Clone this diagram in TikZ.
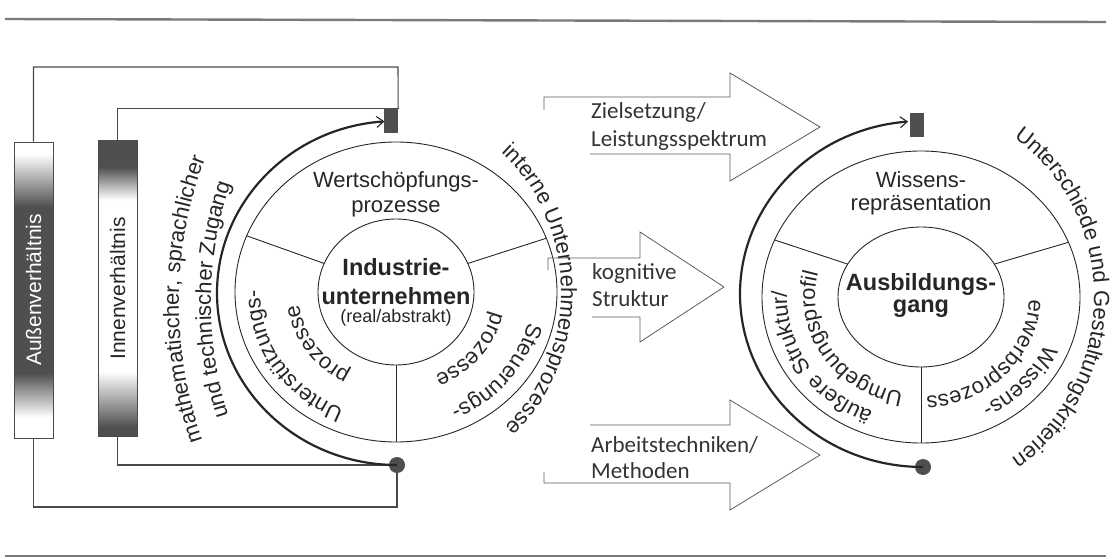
\documentclass[tikz,border=0pt]{standalone}
\usepackage{fontspec}
\usepackage{graphicx}
\setmainfont{Liberation Sans}
\newfontfamily\arrowfont{Carlito}
\usetikzlibrary{arrows.meta,decorations.text,calc}

\definecolor{ink}{HTML}{262626}
\definecolor{framegray}{HTML}{4A4A4A}
\definecolor{bardark}{HTML}{4F4F4F}
\definecolor{rulegray}{HTML}{7A7A7A}
\definecolor{arrowgray}{HTML}{5C5C5C}
\definecolor{labelgray}{HTML}{333333}

% vertical shadings of the two relation bars (bottom -> top, 25bp..75bp = bar)
\pgfdeclareverticalshading{outerbar}{100bp}{color(0bp)=(white); color(25bp)=(white); color(28.5bp)=(white); color(36bp)=(bardark); color(64bp)=(bardark); color(73bp)=(white); color(100bp)=(white)}
\pgfdeclareverticalshading{innerbar}{100bp}{color(0bp)=(bardark); color(26.5bp)=(bardark); color(36bp)=(white); color(65bp)=(white); color(70.5bp)=(bardark); color(100bp)=(bardark)}

\newcommand\ringfont{\fontsize{22}{26}\selectfont}
% curved text: centre, start angle, end angle, x radius, y radius, text
\newcommand\ringtext[6]{%
  \path[decorate, decoration={text along path, text align=center,
    text={|\ringfont\color{ink}|#6}}]
    ($(#1)+(#2:#4 and #5)$) arc[start angle=#2, end angle=#3, x radius=#4, y radius=#5];}

\begin{document}
\begin{tikzpicture}[x=1pt,y=1pt,
  ringline/.style={draw=ink, line width=0.9pt},
  frameline/.style={draw=framegray, line width=1.1pt},
  thickarc/.style={draw=ink, line width=2.2pt, -{Straight Barb[length=7pt,width=11pt,line width=1.1pt]}},
  blockarrow/.style={draw=arrowgray, line width=0.8pt, line join=miter},
  relbar/.style={draw=framegray, line width=0.8pt, minimum width=39pt, minimum height=296pt, inner sep=0pt, shade, font=\fontsize{21}{21}\selectfont},
  marker/.style={fill=bardark, minimum width=14pt, minimum height=24pt, inner sep=0pt},
  knob/.style={circle, fill=bardark, minimum size=16pt, inner sep=0pt},
  ctext/.style={inner sep=0pt, anchor=base, text=ink, font=\ringfont},
  btext/.style={inner sep=0pt, anchor=base, text=ink, font=\fontsize{23.5}{23.5}\selectfont\bfseries},
  stext/.style={inner sep=0pt, anchor=base, text=ink, font=\fontsize{18}{18}\selectfont},
  alabel/.style={inner sep=0pt, anchor=base west, text=labelgray, font=\arrowfont\fontsize{23}{23}\selectfont},
]
\useasboundingbox (0,0) rectangle (1114,-559);

% horizontal rules
\draw[rulegray, line width=2.4pt] (5,-19) -- (1106,-22);
\draw[rulegray, line width=2.4pt] (5,-556) -- (1106,-556);

% relation bars
\node[relbar, shading=outerbar, text=white] (aussen) at (33.5,-290) {\rotatebox{90}{Außenverhältnis}};
\node[relbar, shading=innerbar, text=ink] (innen) at (117.5,-288.5) {\rotatebox{90}{Innenverhältnis}};

% ---------------- left disc: Industrieunternehmen
\coordinate (C1) at (396,-292);
\draw[ringline] (C1) ellipse [x radius=161, y radius=150];
\draw[ringline] (C1) ellipse [x radius=78, y radius=73];
\draw[ringline] ($(C1)+(157:78 and 73)$) -- ($(C1)+(158:161 and 150)$);
\draw[ringline] ($(C1)+(23:78 and 73)$) -- ($(C1)+(21:161 and 150)$);
\draw[ringline] ($(C1)+(270:78 and 73)$) -- ($(C1)+(270:161 and 150)$);

\node[marker] (sq1) at (391,-121) {};
\node[knob] (dot1) at (397,-465) {};
\coordinate (otop) at (398,-67);
\coordinate (obot) at (397,-507);

% frame connectors
\draw[frameline] (aussen.north) |- (otop) -- (sq1.north east);
\draw[frameline] (innen.north) |- (sq1.north east);
\draw[frameline] (aussen.south) |- (obot) -- (dot1);
\draw[frameline] (innen.south) |- (dot1);

\draw[thickarc] (dot1.center) arc[start angle=270, end angle=94, x radius=180, y radius=172];

\node[ctext] (wert1) at (396,-187) {Wertschöpfungs-};
\node[ctext] (wert2) at (396,-212) {prozesse};
\node[btext] (ind1) at (396,-275) {Industrie-};
\node[btext] (ind2) at (396,-304) {unternehmen};
\node[stext] (ind3) at (396,-322) {(real/abstrakt)};

\ringtext{C1}{275}{150}{136}{127}{Unterstützungs-}
\ringtext{C1}{290}{137}{98}{91}{prozesse}
\ringtext{C1}{20}{-98}{136}{127}{Steuerungs-}
\ringtext{C1}{40}{-116}{98}{91}{prozesse}
\ringtext{C1}{75}{-73}{165}{181}{interne Unternehmensprozesse}
\coordinate (CL) at (396,-303);
\ringtext{CL}{249}{109}{217}{302}{mathematischer, sprachlicher}
\ringtext{CL}{249}{109}{185}{266}{und technischer Zugang}

% ---------------- block arrows
\draw[blockarrow] (544,-110) -- (544,-97) -- (730,-97) -- (730,-73) -- (820,-127) -- (730,-181) -- (730,-154) -- (590,-154);
\draw[blockarrow] (548,-270) -- (548,-258) -- (640,-258) -- (640,-232) -- (724,-287) -- (640,-342) -- (640,-317) -- (592,-317);
\draw[blockarrow] (590,-425) -- (730,-425) -- (730,-400) -- (820,-455) -- (730,-510) -- (730,-483) -- (544,-483) -- (544,-472);

\node[alabel] (ziel1) at (591,-119) {Zielsetzung/};
\node[alabel] (ziel2) at (591,-147) {Leistungsspektrum};
\node[alabel] (kog1) at (592,-279) {kognitive};
\node[alabel] (kog2) at (592,-306) {Struktur};
\node[alabel] (arb1) at (591,-452) {Arbeitstechniken/};
\node[alabel] (arb2) at (591,-478) {Methoden};

% ---------------- right disc: Ausbildungsgang
\coordinate (C2) at (921,-297);
\draw[ringline] (C2) ellipse [x radius=159, y radius=146];
\draw[ringline] (C2) ellipse [x radius=83, y radius=70];
\draw[ringline] ($(C2)+(152:83 and 70)$) -- ($(C2)+(157:159 and 146)$);
\draw[ringline] ($(C2)+(28:83 and 70)$) -- ($(C2)+(22:159 and 146)$);
\draw[ringline] ($(C2)+(270:83 and 70)$) -- ($(C2)+(270:159 and 146)$);

\node[marker] (sq2) at (916.5,-125) {};
\node[knob] (dot2) at (923,-467) {};
\draw[thickarc] (dot2.center) arc[start angle=270, end angle=94.7, x radius=183, y radius=173];

\node[ctext] (wis1) at (921,-187) {Wissens-};
\node[ctext] (wis2) at (921,-211) {repräsentation};
\node[btext] (aus1) at (921,-290) {Ausbildungs-};
\node[btext] (aus2) at (921,-312) {gang};

\ringtext{C2}{280}{144}{134}{123}{äußere Struktur/}
\ringtext{C2}{300}{124}{106}{97}{Umgebungsprofil}
\ringtext{C2}{24}{-106}{134}{123}{Wissens-}
\ringtext{C2}{44}{-130}{108}{99}{erwerbsprozess}
\ringtext{C2}{75}{-76}{173}{189}{Unterschiede und Gestaltungskriterien}
\end{tikzpicture}
\end{document}
